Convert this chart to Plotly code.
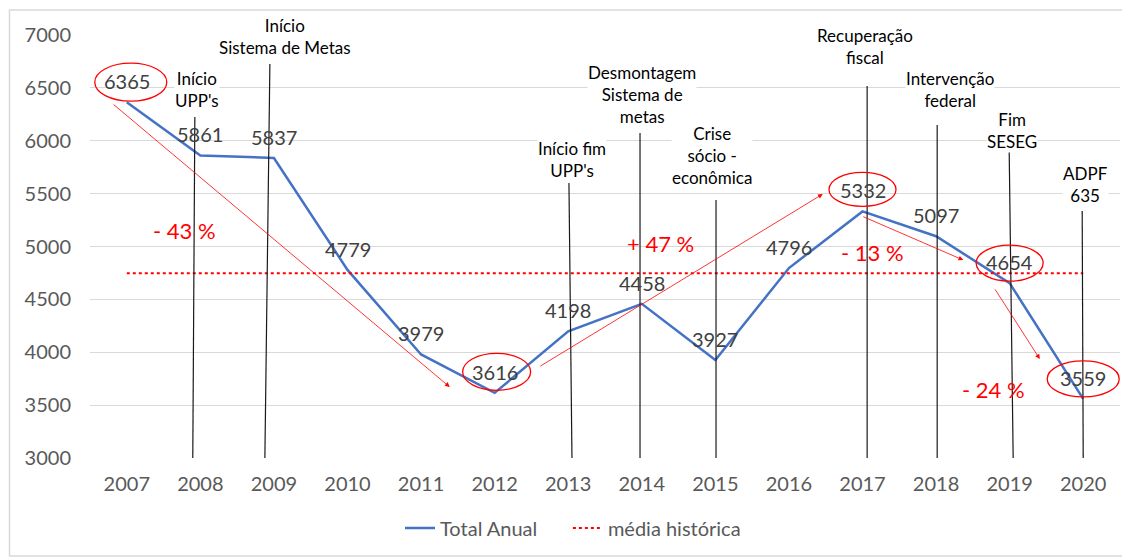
import plotly.graph_objects as go

# ---- data ----
years = [2007, 2008, 2009, 2010, 2011, 2012, 2013, 2014, 2015, 2016, 2017, 2018, 2019, 2020]
total_anual = [6365, 5861, 5837, 4779, 3979, 3616, 4198, 4458, 3927, 4796, 5332, 5097, 4654, 3559]
media_historica = round(sum(total_anual) / len(total_anual))
y_ticks = [3000, 3500, 4000, 4500, 5000, 5500, 6000, 6500, 7000]

events = ["Início<br>UPP's", "Início<br>Sistema de Metas", "Início fim<br>UPP's",
          "Desmontagem<br>Sistema de<br>metas", "Crise<br>sócio -<br>econômica",
          "Recuperação<br>fiscal", "Intervenção<br>federal", "Fim<br>SESEG", "ADPF<br>635"]
variations = ["- 43 %", "+ 47 %", "- 13 %", "- 24 %"]
highlight_years = [2007, 2012, 2017, 2019, 2020]

FONT = "Lato"
GREY = "#595959"

fig = go.Figure()
fig.add_trace(go.Scatter(x=years, y=total_anual, mode="lines", name="Total Anual" + "\u00a0" * 5,
                         line=dict(color="#4472C4", width=2.5)))
fig.add_trace(go.Scatter(x=years, y=[media_historica] * len(years), mode="lines",
                         name="média histórica",
                         line=dict(color="#FF0000", width=2, dash="dot")))

annotations = []
# data labels
for yr, v in zip(years, total_anual):
    annotations.append(dict(x=yr, y=v, text=str(v), showarrow=False, yshift=21,
                            font=dict(family=FONT, size=20, color="#404040")))

# event markers: (text centre x, text centre y, line top x, line bottom x, line top y)
event_layout = [
    (2007.95, 6480, 2007.925, 2007.897, 6225),
    (2009.15, 6986, 2008.945, 2008.877, 6726),
    (2013.05, 5827, 2013.010, 2013.051, 5600),
    (2014.00, 6433, 2013.976, 2013.976, 6073),
    (2014.95, 5856, 2015.009, 2015.009, 5440),
    (2017.04, 6896, 2017.063, 2017.063, 6518),
    (2018.19, 6480, 2018.015, 2018.015, 6149),
    (2019.03, 6097, 2018.994, 2019.048, 5894),
    (2020.03, 5582, 2019.986, 2020.000, 5336),
]
shapes = []
for txt, (tx, ty, lx0, lx1, ly) in zip(events, event_layout):
    shapes.append(dict(type="line", xref="x", yref="y", x0=lx0, y0=ly, x1=lx1, y1=y_ticks[0],
                       line=dict(color="#1a1a1a", width=1.2), layer="above"))
    annotations.append(dict(x=tx, y=ty, text=txt, showarrow=False, bgcolor="white",
                            font=dict(family=FONT, size=17, color="black"), borderpad=0))

# percentage texts
pct_pos = [(2007.79, 5147), (2014.26, 5033), (2017.13, 4939), (2018.78, 3652)]
for txt, (px, py) in zip(variations, pct_pos):
    annotations.append(dict(x=px, y=py, text=txt, showarrow=False,
                            font=dict(family=FONT, size=22, color="#FF0000")))

# arrows (tail -> head)
arrows = [((2006.80, 6355), (2011.39, 3671)),
          ((2012.60, 3860), (2016.46, 5496)),
          ((2016.99, 5288), (2018.37, 4872)),
          ((2018.79, 4608), (2019.41, 3936))]
for (tx, ty), (hx, hy) in arrows:
    annotations.append(dict(x=hx, y=hy, ax=tx, ay=ty, axref="x", ayref="y", xref="x", yref="y",
                            text="", showarrow=True, arrowhead=2, arrowsize=1.2, arrowwidth=0.8,
                            arrowcolor="#FF0000", standoff=0, startstandoff=0))

# red ellipses around highlighted labels (pixel sized, anchored on data points)
ell = {2007: (4, 20, 36, 19), 2012: (2, 21, 34, 18.5), 2017: (0, 22, 33.5, 17),
       2019: (0, 20, 33.5, 18), 2020: (0, 20, 36, 18)}
for yr in highlight_years:
    v = total_anual[years.index(yr)]
    dx, dy, rx, ry = ell[yr]
    shapes.append(dict(type="circle", xref="x", yref="y", xsizemode="pixel", ysizemode="pixel",
                       xanchor=yr, yanchor=v, x0=dx - rx, x1=dx + rx, y0=dy - ry, y1=dy + ry,
                       line=dict(color="#FF0000", width=1.3), layer="above"))

# outer chart border
shapes.append(dict(type="rect", xref="paper", yref="paper",
                   x0=(9.5 - 90) / 1030, x1=(1127 - 90) / 1030,
                   y0=(458 - 556) / 423, y1=(458 - 10) / 423,
                   line=dict(color="#d9d9d9", width=1.5)))

fig.update_layout(
    width=1122, height=550,
    margin=dict(l=82, r=10, t=27, b=100),
    paper_bgcolor="white", plot_bgcolor="white",
    font=dict(family=FONT, size=20, color=GREY),
    showlegend=True,
    legend=dict(orientation="h", x=(573 - 90) / 1030, y=-0.1655, xanchor="center", yanchor="middle",
                font=dict(family=FONT, size=20, color=GREY), itemwidth=30),
    xaxis=dict(range=[2006.5, 2020.5], tickmode="array", tickvals=years,
               ticktext=[str(y) for y in years], showgrid=False, zeroline=False,
               showline=False, ticks="", ticklabelstandoff=12,
               tickfont=dict(family=FONT, size=20, color=GREY)),
    yaxis=dict(range=[3000, 7000], tickmode="array", tickvals=y_ticks,
               showgrid=True, gridcolor="#d9d9d9", gridwidth=1, zeroline=False,
               showline=False, ticks="", ticklabelstandoff=18,
               tickfont=dict(family=FONT, size=20, color=GREY)),
    shapes=shapes, annotations=annotations,
)

fig.write_html("out.html")
